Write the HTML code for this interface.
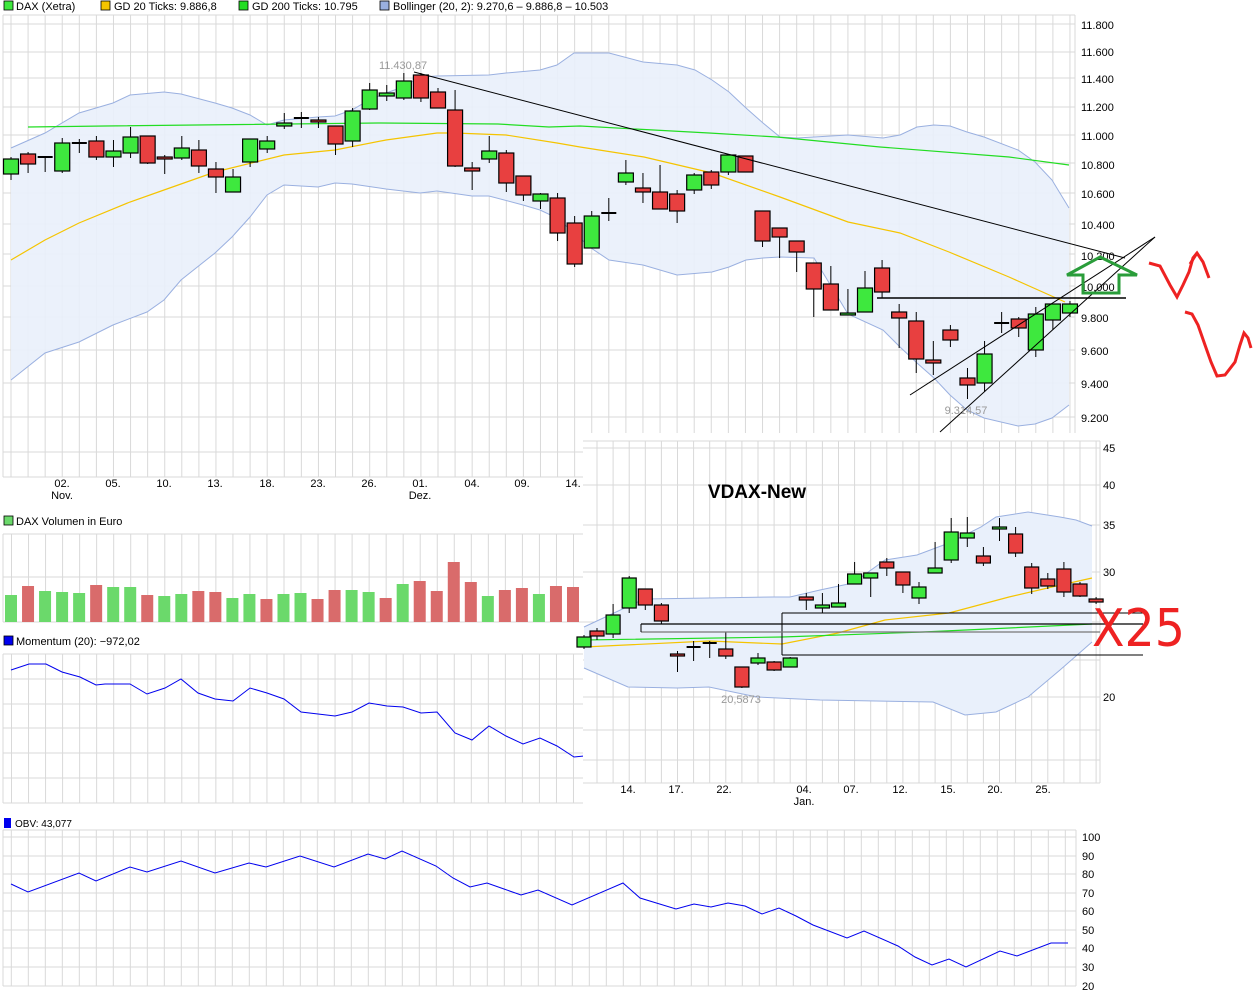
<!DOCTYPE html>
<html><head><meta charset="utf-8"><style>
html,body{margin:0;padding:0;background:#fff;}
svg{display:block;font-family:"Liberation Sans",Arial,sans-serif;}
</style></head><body>
<svg id="s" width="1253" height="997" viewBox="0 0 1253 997" xmlns="http://www.w3.org/2000/svg">
<rect width="1253" height="997" fill="#fff"/>
<g id="main"></g>
<g id="over"></g>
<g font-size="11" fill="#000">
<rect x="4" y="1" width="9" height="9" fill="#3ee83e" stroke="#000" stroke-width="0.8"/><text x="16" y="10">DAX (Xetra)</text>
<rect x="101" y="1" width="9" height="9" fill="#f5c400" stroke="#000" stroke-width="0.8"/><text x="114" y="10">GD 20 Ticks: 9.886,8</text>
<rect x="239" y="1" width="9" height="9" fill="#22dd22" stroke="#000" stroke-width="0.8"/><text x="252" y="10">GD 200 Ticks: 10.795</text>
<rect x="380" y="1" width="9" height="9" fill="#9ab0e0" stroke="#000" stroke-width="0.8"/><text x="393" y="10">Bollinger (20, 2): 9.270,6 – 9.886,8 – 10.503</text>
<g text-anchor="start">
<text x="1081" y="29">11.800</text><text x="1081" y="56">11.600</text><text x="1081" y="83">11.400</text><text x="1081" y="111">11.200</text><text x="1081" y="140">11.000</text><text x="1081" y="169">10.800</text><text x="1081" y="198">10.600</text><text x="1081" y="229">10.400</text><text x="1081" y="260">10.200</text><text x="1081" y="291">10.000</text><text x="1081" y="322">9.800</text><text x="1081" y="355">9.600</text><text x="1081" y="388">9.400</text><text x="1081" y="422">9.200</text>
</g>
<g text-anchor="middle">
<text x="62" y="487">02.</text><text x="62" y="499">Nov.</text><text x="113" y="487">05.</text><text x="164" y="487">10.</text><text x="215" y="487">13.</text><text x="267" y="487">18.</text><text x="318" y="487">23.</text><text x="369" y="487">26.</text><text x="420" y="487">01.</text><text x="420" y="499">Dez.</text><text x="472" y="487">04.</text><text x="522" y="487">09.</text><text x="573" y="487">14.</text>
</g>
<text x="403" y="69" text-anchor="middle" fill="#999">11.430,87</text>
<text x="966" y="414" text-anchor="middle" fill="#999">9.314,57</text>
<rect x="4" y="516" width="9" height="9" fill="#6bd96b" stroke="#000" stroke-width="0.8"/><text x="16" y="525">DAX Volumen in Euro</text>
<rect x="4" y="636" width="9" height="9" fill="#0000ee" stroke="#000" stroke-width="0.8"/><text x="16" y="645">Momentum (20): −972,02</text>
<rect x="4" y="818" width="7" height="10" fill="#0000ee"/><text x="15" y="827" font-size="10">OBV: 43,077</text>
<g font-size="11">
<text x="1082" y="841">100</text><text x="1082" y="860">90</text><text x="1082" y="878">80</text><text x="1082" y="897">70</text><text x="1082" y="915">60</text><text x="1082" y="934">50</text><text x="1082" y="952">40</text><text x="1082" y="971">30</text><text x="1082" y="990">20</text>
</g>
</g>
<g id="vd"></g>
<g font-size="11" fill="#000" id="vdtext">
<text x="1103" y="452">45</text><text x="1103" y="489">40</text><text x="1103" y="529">35</text><text x="1103" y="576">30</text><text x="1103" y="701">20</text>
<g text-anchor="middle"><text x="628" y="793">14.</text><text x="676" y="793">17.</text><text x="724" y="793">22.</text><text x="804" y="793">04.</text><text x="804" y="805">Jan.</text><text x="851" y="793">07.</text><text x="900" y="793">12.</text><text x="948" y="793">15.</text><text x="995" y="793">20.</text><text x="1043" y="793">25.</text></g>
<text x="741" y="703" text-anchor="middle" fill="#999">20,5873</text>
<text x="757" y="498" text-anchor="middle" font-size="19" font-weight="bold">VDAX-New</text>
</g>
<g id="anno"></g>
<text x="1092" y="646" font-size="52" fill="#ee2222" font-family="'DejaVu Sans',sans-serif" textLength="93" lengthAdjust="spacingAndGlyphs" font-stretch="condensed">X25</text>
</svg>
<script>
var NS="http://www.w3.org/2000/svg";
function el(p,t,a){var e=document.createElementNS(NS,t);for(var k in a)e.setAttribute(k,a[k]);document.getElementById(p).appendChild(e);return e;}
function line(p,x1,y1,x2,y2,c,w){el(p,"line",{x1:x1,y1:y1,x2:x2,y2:y2,stroke:c,"stroke-width":w||1});}
function pl(p,pts,c,w,f){el(p,"polyline",{points:pts.map(function(q){return q.join(",")}).join(" "),fill:f||"none",stroke:c,"stroke-width":w||1});}
var G="#d9d9d9";
var hy=[15,24,52,78,107,135,163,193,224,254,286,317,350,383,417,452,477];
for(var i=0;i<63;i++){var x=11+17.08*i;line("main",x,15,x,477,G);}
hy.forEach(function(y){line("main",3,y,1075,y,G);});
line("main",3,15,3,477,G);line("main",1075,15,1075,477,G);
var up=[[11,148],[45,133],[79,113],[113,103],[130,95],[164,92],[181,94],[215,103],[232,108],[250,115],[267,125],[284,120],[318,117],[335,116],[352,110],[369,100],[386,93],[403,87],[420,77],[437,76],[489,75],[506,73],[540,70],[557,65],[574,53],[609,53],[643,62],[677,65],[695,70],[712,80],[729,92],[746,108],[763,123],[780,137],[797,138],[814,137],[848,135],[883,138],[900,135],[917,127],[934,125],[950,126],[967,132],[984,137],[1018,150],[1035,162],[1052,180],[1069,208]];
var lo=[[11,380],[45,353],[79,342],[113,325],[147,312],[164,300],[181,280],[215,253],[232,237],[250,217],[267,195],[284,185],[318,187],[335,183],[352,184],[386,189],[420,193],[437,191],[472,196],[489,196],[523,205],[540,210],[557,218],[574,233],[591,248],[609,260],[643,265],[677,275],[712,272],[729,267],[746,260],[763,258],[780,257],[814,258],[848,314],[883,330],[900,347],[917,363],[934,378],[950,395],[967,410],[984,418],[1018,426],[1035,424],[1052,418],[1069,405]];
el("main","polygon",{points:up.concat(lo.slice().reverse()).map(function(q){return q.join(",")}).join(" "),fill:"#e9f0fb",stroke:"none","fill-opacity":"0.9"});
pl("main",up,"#9ab0e0",1);pl("main",lo,"#9ab0e0",1);
pl("main",[[28,127],[105,126],[378,123],[498,124],[549,127],[580,126],[709,133],[777,137],[880,147],[1009,157],[1069,165]],"#22dd22",1.2);
pl("main",[[11,260],[45,240],[79,223],[130,202],[164,190],[215,172],[284,155],[335,150],[386,140],[437,133],[455,133],[506,135],[557,143],[580,147],[644,157],[712,173],[780,197],[848,222],[900,233],[949,252],[1009,277],[1065,302]],"#f5c400",1.2);
var C=[["G",159,174,157,180],["R",154,164,152,173],["D",157,157,157,172],["G",143,171,138,173],["D",143,143,139,153],["R",141,157,136,160],["G",151,157,140,167],["G",137,153,127,158],["R",136,163,136,164],["R",157,159,155,174],["G",148,158,136,160],["R",150,166,140,173],["R",169,177,162,193],["G",177,192,169,192],["G",139,162,139,167],["G",141,149,136,153],["G",123,126,113,129],["D",118,118,112,128],["R",120,122,117,128],["R",126,144,126,155],["G",111,141,108,147],["G",90,109,83,110],["G",93,96,85,101],["G",81,98,73,100],["R",75,98,73,102],["R",92,108,88,108],["R",110,166,90,167],["R",168,171,162,190],["G",151,159,136,163],["R",153,183,150,192],["R",176,195,176,201],["G",194,201,193,209],["R",198,233,193,241],["R",223,264,216,267],["G",216,248,211,248],["D",213,213,198,221],["G",173,182,160,185],["R",188,192,173,203],["R",192,209,165,209],["R",194,211,190,223],["G",175,190,173,194],["R",172,185,170,189],["G",155,172,155,175],["R",156,172,156,172],["R",211,241,211,247],["R",228,237,228,258],["R",241,252,241,272],["R",263,289,263,317],["R",284,310,266,310],["G",313,315,289,315],["G",288,312,271,312],["R",268,292,260,298],["R",312,318,304,348],["R",321,359,312,373],["R",360,363,341,375],["R",330,340,325,347],["R",378,385,368,399],["G",354,383,341,392],["D",323,323,312,333],["R",319,328,317,337],["G",314,350,307,357],["G",304,320,304,330],["G",304,313,301,317]];
function candles(p,arr,xs,bw){arr.forEach(function(c,i){var x=xs(i);line(p,x,c[3],x,c[4],"#000",1);
 if(c[0]=="D"){el(p,"rect",{x:x-bw/2,y:c[1]-1,width:bw,height:2,fill:"#000"});}
 else{var h=Math.max(c[2]-c[1],2);el(p,"rect",{x:x-bw/2,y:c[1],width:bw,height:h,fill:c[0]=="G"?"#3ee83e":"#e84040",stroke:"#000","stroke-width":1.2});}});}
candles("main",C,function(i){return 11+17.08*i;},15);
line("main",414,72,1125,258,"#000",1);
line("main",877,298,1126,298,"#000",1.5);
line("main",910,395,1155,237,"#000",1);
line("main",940,432,1155,237,"#000",1);
for(var i=0;i<35;i++){var x=11.5+17.03*i;line("main",x,534,x,622,G);line("main",x,654,x,803,G);}
[534,577,622].forEach(function(y){line("main",3,y,583,y,G);});
[654,679,704,728,753,778,803].forEach(function(y){line("main",3,y,583,y,G);});
line("main",3,534,3,622,G);line("main",3,654,3,803,G);
var V=[["G",595],["R",586],["G",591],["G",592],["G",593],["R",585],["G",587],["G",587],["R",595],["G",596],["G",594],["R",591],["R",592],["G",598],["G",594],["R",599],["G",594],["G",593],["R",599],["R",590],["G",590],["G",592],["R",598],["G",584],["R",581],["R",591],["R",562],["R",582],["G",596],["R",590],["R",588],["G",594],["R",586],["R",587]];
V.forEach(function(v,i){var x=11+17.03*i;el("main","rect",{x:x-6,y:v[1],width:12,height:622-v[1],fill:v[0]=="G"?"#6bd96b":"#d96b6b"});});
pl("main",[[11,670],[29,664],[46,664],[62,672],[80,677],[96,685],[105,684],[130,684],[147,694],[165,688],[181,679],[198,693],[215,699],[233,701],[250,688],[267,693],[284,699],[301,712],[318,714],[335,716],[352,712],[369,703],[387,706],[403,707],[421,713],[437,712],[455,733],[472,740],[489,726],[506,736],[523,744],[540,738],[557,746],[574,757],[584,756]],"#0000ee",1);
for(var i=0;i<63;i++){var x=11.3+17.0*i;line("main",x,830,x,986,G);}
[830,837,856,874,893,911,930,948,967,986].forEach(function(y){line("main",3,y,1076,y,G);});
line("main",3,830,3,986,G);line("main",1076,830,1076,986,G);
pl("main",[[11,884],[28,892],[79,873],[96,881],[130,867],[147,872],[181,861],[215,873],[249,863],[266,867],[300,856],[334,867],[368,854],[385,859],[402,851],[436,866],[453,878],[470,887],[487,883],[504,889],[521,895],[538,890],[572,905],[623,883],[640,898],[676,909],[694,904],[711,907],[728,903],[745,906],[762,914],[779,908],[796,916],[813,925],[847,938],[864,931],[898,946],[915,957],[932,965],[949,959],[966,967],[1000,951],[1017,956],[1051,943],[1068,943]],"#0000ee",1);
el("vd","rect",{x:583,y:433,width:670,height:377,fill:"#fff"});
for(var k=0;k<32;k++){var x=597+16.1*k;line("vd",x,441,x,783,G);}
[441,448,485,525,572,622,660,697,730,760,783].forEach(function(y){line("vd",583,y,1100,y,G);});
line("vd",1100,441,1100,783,G);
var vu=[[584,627],[644,599],[709,598],[773,597],[790,597],[820,590],[853,583],[885,560],[917,555],[949,543],[981,527],[996,517],[1028,512],[1060,517],[1076,520],[1092,526]];
var vl=[[584,668],[628,687],[677,688],[709,687],[757,697],[820,700],[933,702],[965,715],[996,712],[1028,697],[1060,670],[1092,642]];
el("vd","polygon",{points:vu.concat(vl.slice().reverse()).map(function(q){return q.join(",")}).join(" "),fill:"#e9f0fb"});
pl("vd",vu,"#9ab0e0",1);pl("vd",vl,"#9ab0e0",1);
pl("vd",[[584,647],[709,641],[782,644],[838,633],[885,620],[949,613],[1009,597],[1052,587],[1092,578]],"#f5c400",1.2);
pl("vd",[[584,640],[782,637],[923,632],[1009,628],[1092,624]],"#22dd22",1.2);
var VC=[["G",637,647,635,649],["R",631,636,628,640],["G",615,634,604,638],["G",578,608,576,613],["R",589,605,589,610],["R",605,621,603,624],["R",654,656,651,672],["D",647,647,641,661],["D",643,643,641,658],["R",649,656,632,659],["R",667,687,667,688],["G",658,663,653,665],["R",662,670,661,671],["G",658,667,657,667],["R",597,600,593,610],["G",605,608,593,613],["G",603,607,584,607],["G",574,584,562,584],["G",573,578,573,597],["R",562,568,558,576],["R",572,585,572,593],["G",587,598,582,604],["G",568,573,542,573],["G",532,560,518,563],["G",533,538,517,547],["R",556,563,547,566],["G",527,529,518,541],["R",534,553,527,557],["R",567,588,563,594],["R",579,586,573,589],["R",569,592,562,597],["R",584,596,582,597],["R",599,602,597,604]];
candles("vd",VC,function(i){return i===0?584:597+16.1*(i-1);},14);
line("vd",782,613,1143,613,"#000",1);line("vd",782,655,1143,655,"#000",1);line("vd",782,613,782,655,"#000",1);
line("vd",641,624,1143,624,"#000",1.2);line("vd",641,632,1100,632,"#777",1.2);line("vd",641,624,641,632,"#000",1);
el("anno","polygon",{points:"1100,257 1137,275 1119,275 1119,293 1083,293 1083,275 1067,275",fill:"none",stroke:"#2a9d3a","stroke-width":3});
pl("anno",[[1149,263],[1160,266],[1170,285],[1177,297],[1183,285],[1189,272],[1193,258],[1197,253],[1203,262],[1209,278]],"#ee2222",3);
pl("anno",[[1190,264],[1197,253]],"#ee2222",3);
pl("anno",[[1185,312],[1192,314],[1198,325],[1205,345],[1211,362],[1217,376],[1225,375],[1235,362],[1240,345],[1244,333],[1248,338],[1251,348]],"#ee2222",3);
</script>
</body></html>
